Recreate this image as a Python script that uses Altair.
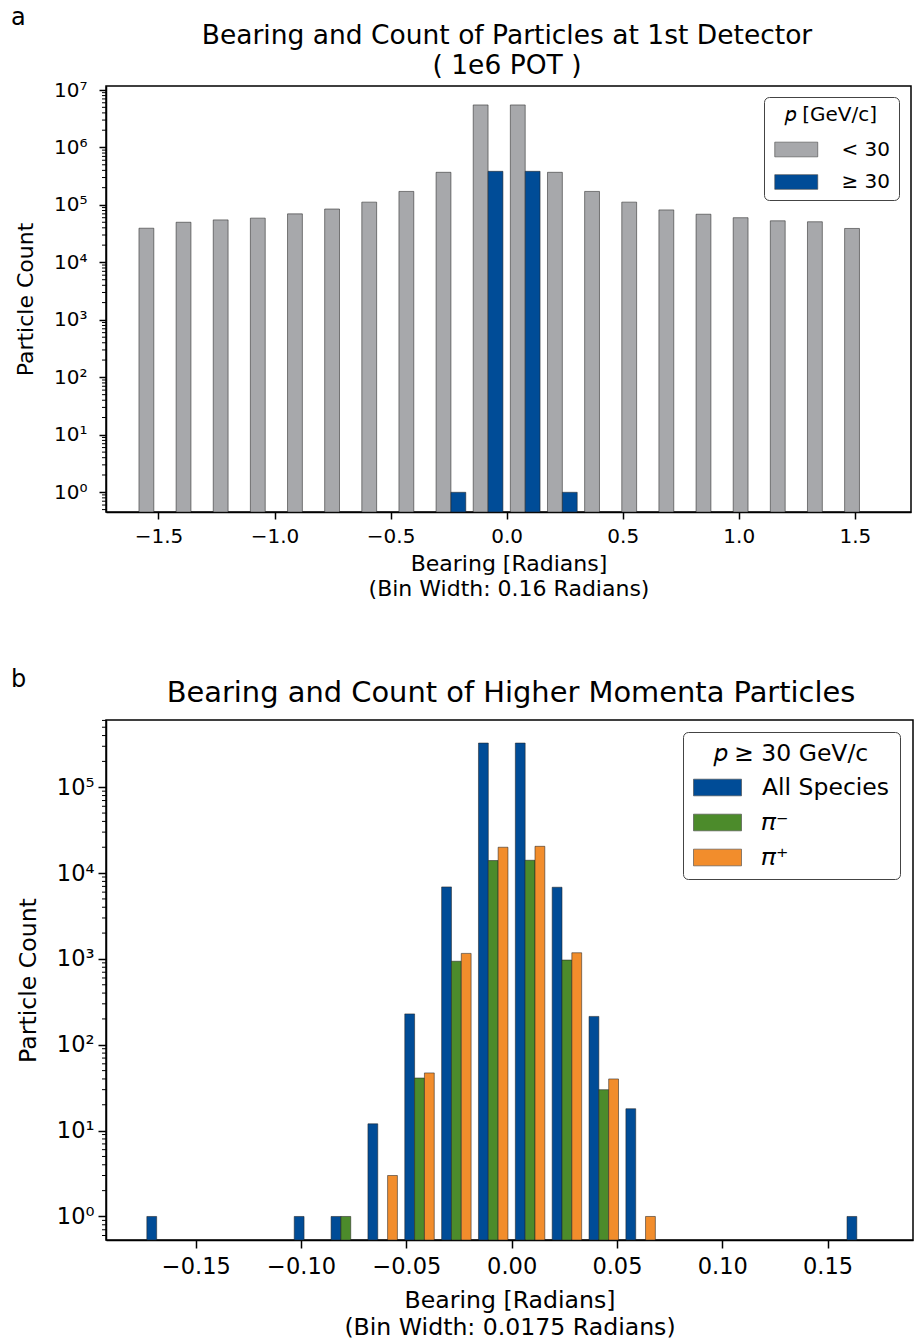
import altair as alt
import pandas as pd

FONT = "DejaVu Sans"

# ---------------- Panel a data ----------------
a_centers = [-1.52, -1.36, -1.20, -1.04, -0.88, -0.72, -0.56, -0.40, -0.24, -0.08,
             0.08, 0.24, 0.40, 0.56, 0.72, 0.88, 1.04, 1.20, 1.36, 1.52]
a_low = [39400, 50000, 55000, 59000, 70000, 85000, 112000, 172000, 370000, 5500000,
         5500000, 370000, 172000, 112000, 82000, 69000, 60000, 53000, 51000, 39000]
a_high = [0, 0, 0, 0, 0, 0, 0, 0, 1, 385000,
          385000, 1, 0, 0, 0, 0, 0, 0, 0, 0]
a_bin_width = 0.16
a_series = ["< 30", "≥ 30"]
a_colors = ["#a7a8ab", "#004c97"]
a_xticks = [-1.5, -1.0, -0.5, 0.0, 0.5, 1.0, 1.5]
a_yticks = [1, 10, 100, 1000, 10000, 100000, 1000000, 10000000]

# ---------------- Panel b data ----------------
b_centers = [-0.16625, -0.14875, -0.13125, -0.11375, -0.09625, -0.07875, -0.06125,
             -0.04375, -0.02625, -0.00875, 0.00875, 0.02625, 0.04375, 0.06125,
             0.07875, 0.09625, 0.11375, 0.13125, 0.14875, 0.16625]
b_all = [1, 0, 0, 0, 1, 1, 12, 229, 6900, 327000,
         327000, 6840, 214, 18, 0, 0, 0, 0, 0, 1]
b_pim = [0, 0, 0, 0, 0, 1, 0, 41, 940, 14000,
         14100, 970, 30, 0, 0, 0, 0, 0, 0, 0]
b_pip = [0, 0, 0, 0, 0, 0, 3, 47, 1160, 20000,
         20500, 1180, 40, 1, 0, 0, 0, 0, 0, 0]
b_bin_width = 0.0175
b_series = ["All Species", "𝜋⁻", "𝜋⁺"]
b_colors = ["#004c97", "#4c8b2b", "#f28d2c"]
b_xticks = [-0.15, -0.10, -0.05, 0.0, 0.05, 0.10, 0.15]
b_yticks = [1, 10, 100, 1000, 10000, 100000]

SUP = "'10' + ['⁰','¹','²','³','⁴','⁵','⁶','⁷'][round(log(datum.value)/LN10)]"


def bars_frame(centers, series_values, series_names, bin_width):
    n = len(series_values)
    w = bin_width * 0.8 / n
    rows = []
    for i, (name, vals) in enumerate(zip(series_names, series_values)):
        for c, v in zip(centers, vals):
            if v > 0:
                x0 = c - 0.4 * bin_width + i * w
                rows.append({"series": name, "count": v, "x0": x0, "x1": x0 + w})
    return pd.DataFrame(rows)


def minor_frame(lo, hi):
    vals = []
    for e in range(-1, 8):
        for m in range(2, 10):
            v = m * 10.0 ** e
            if lo <= v <= hi:
                vals.append(v)
    return pd.DataFrame({"v": vals})


def axis_common(**kw):
    base = dict(domainColor="black", domainWidth=1.5, tickColor="black", tickWidth=1.5,
                labelColor="black", titleColor="black", labelFont=FONT, titleFont=FONT,
                titleFontWeight="normal", grid=False)
    base.update(kw)
    return alt.Axis(**base)


def text_layer(txt, x, y, size, align="left"):
    return alt.Chart(pd.DataFrame({"t": [txt]})).mark_text(
        font=FONT, fontSize=size, align=align, baseline="alphabetic", color="black"
    ).encode(text="t:N", x=alt.value(x), y=alt.value(y))


def panel(df, xdom, ydom, W, H, xaxis_kw, yaxis_kw, series, colors, legend_kw, texts):
    xscale = alt.Scale(domain=xdom, nice=False, zero=False)
    yscale = alt.Scale(type="log", domain=ydom, nice=False)
    bars = alt.Chart(df).mark_bar(stroke="#222", strokeWidth=0.6, strokeOpacity=0.9).encode(
        x=alt.X("x0:Q", scale=xscale, axis=axis_common(**xaxis_kw)),
        x2="x1:Q",
        y=alt.Y("count:Q", scale=yscale, axis=axis_common(**yaxis_kw)),
        y2=alt.value(H),
        color=alt.Color("series:N", scale=alt.Scale(domain=series, range=colors),
                        legend=alt.Legend(**legend_kw)),
    )
    minor = alt.Chart(minor_frame(ydom[0], ydom[1])).mark_rule(
        color="black", strokeWidth=1).encode(
        y=alt.Y("v:Q", scale=yscale, axis=None),
        x=alt.value(-4), x2=alt.value(0))
    layers = [bars, minor] + [text_layer(*t) for t in texts]
    return alt.layer(*layers).resolve_axis(y="independent").properties(width=W, height=H)


legend_common = dict(orient="none", symbolStrokeColor="#444", symbolStrokeWidth=0.6,
                     labelFont=FONT, titleFont=FONT, titleFontWeight="normal",
                     titleAnchor="middle", titleAlign="center", strokeColor="#444",
                     cornerRadius=5, fillColor="white", labelColor="black",
                     titleColor="black", titleBaseline="top")

legend_a = dict(legend_common, title="𝑝 [GeV/c]", legendX=658, legendY=11,
                symbolType="M-2,-0.684L2,-0.684L2,0.684L-2,0.684Z", symbolSize=462,
                symbolOffset=12.75, labelOffset=33.75, labelFontSize=20, titleFontSize=20,
                padding=8, rowPadding=10.5, titlePadding=13)
legend_b = dict(legend_common, title="𝑝 ≥ 30 GeV/c", legendX=577, legendY=12,
                symbolType="M-2,-0.696L2,-0.696L2,0.696L-2,0.696Z", symbolSize=576,
                symbolOffset=12, labelOffset=32, labelFontSize=23.5, titleFontSize=23.5,
                padding=10, rowPadding=11, titlePadding=9.5)

df_a = bars_frame(a_centers, [a_low, a_high], a_series, a_bin_width)
df_b = bars_frame(b_centers, [b_all, b_pim, b_pip], b_series, b_bin_width)

WA, HA = 805, 426
WB, HB = 807, 520

panel_a = panel(
    df_a, [-1.726, 1.742], [0.454, 1.175e7], WA, HA,
    dict(values=a_xticks, format=".1f",
         title=["Bearing [Radians]", "(Bin Width: 0.16 Radians)"],
         labelFontSize=20, titleFontSize=22, tickSize=7, labelPadding=7,
         titlePadding=7, titleLineHeight=25),
    dict(values=a_yticks, labelExpr=SUP, title="Particle Count", labelFontSize=20,
         titleFontSize=22, tickSize=7, labelPadding=12, titlePadding=16),
    a_series, a_colors, legend_a,
    [("a", -95, -61, 24),
     ("Bearing and Count of Particles at 1st Detector", 401, -42, 26.5, "center"),
     ("( 1e6 POT )", 401, -12, 26.5, "center")])

panel_b = panel(
    df_b, [-0.19264, 0.1906], [0.532, 6.07e5], WB, HB,
    dict(values=b_xticks, format=".2f",
         title=["Bearing [Radians]", "(Bin Width: 0.0175 Radians)"],
         labelFontSize=22.5, titleFontSize=23.6, tickSize=8, labelPadding=7.75,
         titlePadding=10, titleLineHeight=27),
    dict(values=b_yticks, labelExpr=SUP, title="Particle Count", labelFontSize=22.5,
         titleFontSize=23.6, tickSize=8, labelPadding=4, titlePadding=15.5),
    b_series, b_colors, legend_b,
    [("b", -95, -33, 24),
     ("Bearing and Count of Higher Momenta Particles", 405, -18, 28.9, "center")])

chart = alt.concat(panel_a, panel_b, columns=1, spacing=67).resolve_scale(
    color="independent", x="independent", y="independent"
).properties(
    padding={"left": 10, "top": 5, "right": 0, "bottom": 0}
).configure(font=FONT, background="white").configure_view(stroke="black", strokeWidth=1.5)

chart.save("out.html", embed_options={"renderer": "svg", "actions": False})
